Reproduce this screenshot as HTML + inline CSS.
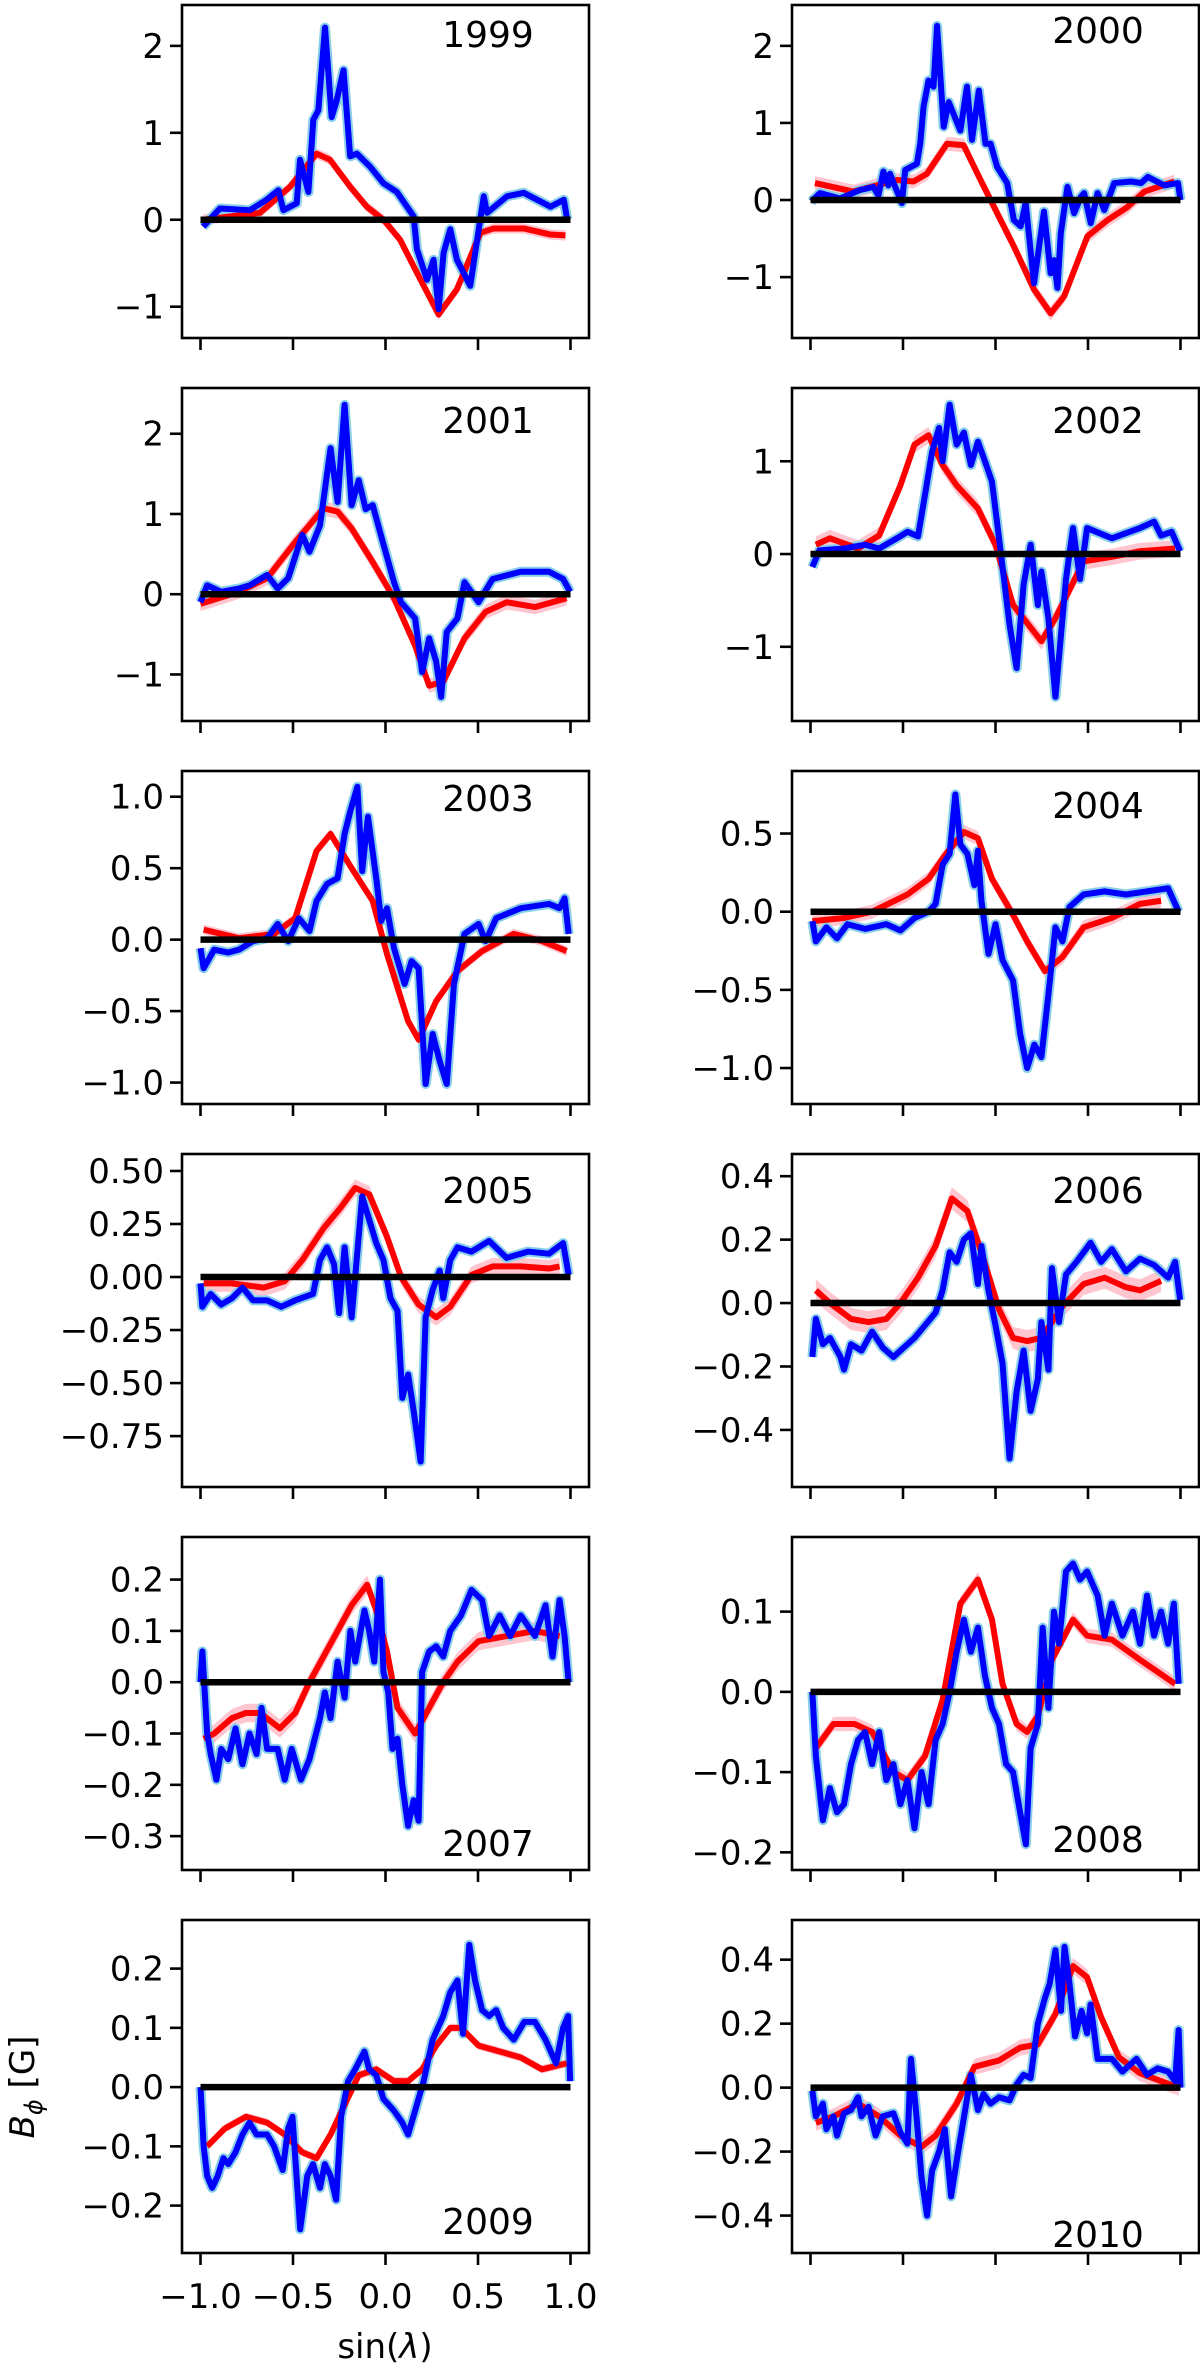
<!DOCTYPE html>
<html><head><meta charset="utf-8"><style>
html,body{margin:0;padding:0;background:#fff;}
svg text{font-family:"DejaVu Sans","Liberation Sans",sans-serif;fill:#000;}
</style></head><body>
<svg id="fig" xmlns="http://www.w3.org/2000/svg" width="1200" height="2368" viewBox="0 0 1200 2368">
<rect width="1200" height="2368" fill="#fff"/>
<text x="385" y="2358" font-size="34" text-anchor="middle">sin(<tspan font-style="italic">λ</tspan>)</text>
<text transform="translate(34,2087) rotate(-90)" font-size="34" text-anchor="middle"><tspan font-style="italic">B</tspan><tspan font-style="italic" font-size="24" dy="8">ϕ</tspan><tspan dy="-8"> [G]</tspan></text>
</svg>
<script>
const years = ["1999","2000","2001","2002","2003","2004","2005","2006","2007","2008","2009","2010"];
const ylims = [[-1.36,2.47],[-1.79,2.53],[-1.58,2.57],[-1.80,1.79],[-1.15,1.18],[-1.23,0.90],[-0.99,0.58],[-0.58,0.47],[-0.366,0.283],[-0.222,0.193],[-0.280,0.282],[-0.517,0.524]];
const yticks = [[2,1,0,-1],[2,1,0,-1],[2,1,0,-1],[1,0,-1],[1,0.5,0,-0.5,-1],[0.5,0,-0.5,-1],[0.5,0.25,0,-0.25,-0.5,-0.75],[0.4,0.2,0,-0.2,-0.4],[0.2,0.1,0,-0.1,-0.2,-0.3],[0.1,0,-0.1,-0.2],[0.2,0.1,0,-0.1,-0.2],[0.4,0.2,0,-0.2,-0.4]];
const ytickLabels = [["2","1","0","−1"],["2","1","0","−1"],["2","1","0","−1"],["1","0","−1"],["1.0","0.5","0.0","−0.5","−1.0"],["0.5","0.0","−0.5","−1.0"],["0.50","0.25","0.00","−0.25","−0.50","−0.75"],["0.4","0.2","0.0","−0.2","−0.4"],["0.2","0.1","0.0","−0.1","−0.2","−0.3"],["0.1","0.0","−0.1","−0.2"],["0.2","0.1","0.0","−0.1","−0.2"],["0.4","0.2","0.0","−0.2","−0.4"]];
const xticks = [-1,-0.5,0,0.5,1];
const xtickLabels = ["−1.0","−0.5","0.0","0.5","1.0"];
const redErr = [0.06,0.09,0.09,0.09,0.035,0.045,0.04,0.035,0.018,0.009,0.007,0.025];

const bx1999=[-0.986,-0.895,-0.733,-0.643,-0.579,-0.552,-0.480,-0.462,-0.417,-0.390,-0.363,-0.327,-0.291,-0.264,-0.227,-0.191,-0.155,-0.083,-0.011,0.061,0.152,0.170,0.224,0.260,0.287,0.314,0.350,0.386,0.458,0.531,0.549,0.657,0.747,0.892,0.964,0.982];
const by1999=[-0.08,0.13,0.11,0.23,0.34,0.11,0.19,0.69,0.32,1.15,1.26,2.21,1.18,1.37,1.72,0.73,0.76,0.61,0.42,0.32,0.04,-0.34,-0.69,-0.46,-1.03,-0.38,-0.11,-0.46,-0.76,0.27,0.08,0.27,0.31,0.15,0.23,0.0];
const rx1999=[-0.986,-0.679,-0.516,-0.372,-0.300,-0.191,-0.101,-0.011,0.079,0.170,0.287,0.386,0.513,0.585,0.747,0.892,0.973];
const ry1999=[0,0.08,0.38,0.76,0.69,0.38,0.15,0,-0.23,-0.61,-1.09,-0.80,-0.15,-0.10,-0.10,-0.17,-0.18];

const bx2000=[-0.995,-0.949,-0.841,-0.732,-0.660,-0.633,-0.606,-0.579,-0.570,-0.542,-0.506,-0.488,-0.425,-0.407,-0.389,-0.362,-0.335,-0.316,-0.280,-0.253,-0.190,-0.154,-0.127,-0.090,-0.054,-0.027,0.009,0.063,0.099,0.136,0.163,0.208,0.262,0.298,0.316,0.335,0.353,0.389,0.425,0.461,0.479,0.515,0.552,0.588,0.642,0.732,0.787,0.823,0.913,0.986,1.0];
const by2000=[-0.02,0.09,0.02,0.13,0.17,0.06,0.37,0.19,0.34,0.17,-0.04,0.39,0.47,0.73,1.21,1.55,1.47,2.26,0.95,1.27,0.90,1.47,0.78,1.42,0.73,0.73,0.43,0.22,-0.26,-0.34,-0.04,-1.08,-0.15,-0.95,-0.78,-1.14,-0.43,0.17,-0.17,0.04,0.09,-0.30,0.09,-0.13,0.22,0.24,0.22,0.30,0.19,0.22,0];
const rx2000=[-0.976,-0.768,-0.533,-0.443,-0.371,-0.262,-0.172,-0.081,0.009,0.099,0.208,0.298,0.371,0.497,0.606,0.714,0.805,0.967];
const ry2000=[0.22,0.11,0.26,0.24,0.34,0.73,0.71,0.26,-0.17,-0.60,-1.16,-1.47,-1.25,-0.47,-0.26,-0.09,0.11,0.24];

const bx2001=[-1.0,-0.964,-0.888,-0.792,-0.735,-0.640,-0.583,-0.526,-0.450,-0.411,-0.354,-0.297,-0.259,-0.221,-0.183,-0.145,-0.107,-0.069,-0.030,0.046,0.084,0.160,0.198,0.236,0.274,0.301,0.331,0.389,0.427,0.503,0.579,0.731,0.884,0.960,0.998];
const by2001=[-0.10,0.11,0.03,0.07,0.11,0.24,0.07,0.20,0.74,0.53,0.86,1.82,1.15,2.36,1.11,1.42,1.06,1.11,0.78,0.15,-0.10,-0.30,-0.97,-0.55,-0.84,-1.28,-0.47,-0.30,0.15,-0.10,0.19,0.28,0.28,0.19,0.03];
const rx2001=[-1.0,-0.792,-0.640,-0.488,-0.335,-0.259,-0.183,-0.069,0.046,0.160,0.236,0.312,0.427,0.541,0.655,0.808,0.979];
const ry2001=[-0.12,0.03,0.20,0.65,1.07,1.03,0.82,0.40,-0.05,-0.64,-1.14,-1.09,-0.55,-0.22,-0.10,-0.16,-0.05];

const bx2002=[-0.990,-0.952,-0.819,-0.705,-0.629,-0.533,-0.476,-0.419,-0.381,-0.343,-0.305,-0.286,-0.248,-0.210,-0.171,-0.133,-0.095,-0.057,-0.019,0.019,0.076,0.114,0.152,0.190,0.229,0.248,0.286,0.324,0.381,0.419,0.457,0.495,0.629,0.781,0.857,0.895,0.952,0.998];
const by2002=[-0.14,0.04,0.06,0.10,0.06,0.17,0.24,0.19,0.64,1.10,1.36,1.00,1.61,1.18,1.31,0.96,1.21,1.00,0.78,0.17,-0.76,-1.23,-0.33,0.10,-0.55,-0.19,-0.69,-1.54,-0.27,0.28,-0.27,0.28,0.17,0.28,0.35,0.20,0.24,0.03];
const rx2002=[-0.971,-0.895,-0.743,-0.629,-0.514,-0.438,-0.362,-0.286,-0.210,-0.095,0,0.095,0.248,0.324,0.476,0.629,0.781,0.971];
const ry2002=[0.10,0.17,0.06,0.20,0.74,1.18,1.28,0.96,0.74,0.49,0.10,-0.55,-0.94,-0.69,-0.08,-0.03,0.03,0.06];

const bx2003=[-1.0,-0.983,-0.926,-0.850,-0.792,-0.716,-0.640,-0.583,-0.526,-0.469,-0.411,-0.373,-0.316,-0.259,-0.221,-0.190,-0.152,-0.126,-0.095,-0.050,-0.023,0.008,0.046,0.103,0.141,0.179,0.217,0.255,0.293,0.331,0.370,0.427,0.503,0.541,0.598,0.731,0.884,0.941,0.968,0.990];
const by2003=[-0.06,-0.20,-0.07,-0.09,-0.07,-0.01,0.01,0.11,-0.01,0.15,0.06,0.27,0.39,0.43,0.74,0.90,1.07,0.48,0.86,0.43,0.13,0.22,-0.06,-0.31,-0.15,-0.20,-1.01,-0.66,-0.85,-1.01,-0.31,0.04,0.11,-0.01,0.15,0.22,0.25,0.22,0.29,0.04];
const rx2003=[-0.983,-0.792,-0.602,-0.488,-0.373,-0.297,-0.183,-0.069,0.008,0.122,0.179,0.274,0.389,0.522,0.693,0.846,0.979];
const ry2003=[0.07,0.01,0.04,0.15,0.62,0.74,0.50,0.27,-0.10,-0.57,-0.70,-0.43,-0.22,-0.08,0.04,-0.01,-0.08];

const bx2004=[-0.990,-0.971,-0.914,-0.857,-0.800,-0.705,-0.590,-0.514,-0.438,-0.362,-0.324,-0.286,-0.248,-0.217,-0.190,-0.152,-0.114,-0.095,-0.076,-0.038,0,0.038,0.095,0.133,0.171,0.210,0.248,0.286,0.324,0.362,0.400,0.476,0.590,0.705,0.819,0.933,0.990];
const by2004=[-0.06,-0.19,-0.10,-0.17,-0.08,-0.11,-0.08,-0.12,-0.04,0.00,0.05,0.30,0.37,0.75,0.43,0.37,0.17,0.39,0.07,-0.27,-0.08,-0.31,-0.44,-0.78,-1.00,-0.85,-0.93,-0.53,-0.10,-0.19,0.03,0.11,0.13,0.11,0.13,0.15,0.00];
const rx2004=[-0.990,-0.819,-0.667,-0.476,-0.362,-0.267,-0.171,-0.095,-0.019,0.095,0.171,0.267,0.362,0.476,0.629,0.781,0.895];
const ry2004=[-0.06,-0.04,0.00,0.11,0.21,0.37,0.51,0.47,0.21,-0.02,-0.19,-0.38,-0.29,-0.10,-0.04,0.05,0.07];

const bx2005=[-1.0,-0.990,-0.945,-0.888,-0.830,-0.773,-0.716,-0.640,-0.564,-0.488,-0.392,-0.354,-0.316,-0.278,-0.251,-0.221,-0.183,-0.152,-0.126,-0.088,-0.050,-0.011,0.027,0.065,0.091,0.122,0.152,0.190,0.217,0.255,0.293,0.312,0.350,0.389,0.465,0.560,0.655,0.770,0.884,0.960,0.990];
const by2005=[-0.03,-0.14,-0.08,-0.13,-0.10,-0.05,-0.11,-0.11,-0.14,-0.11,-0.08,0.08,0.14,0.06,-0.17,0.14,-0.19,0.12,0.38,0.27,0.16,0.08,-0.10,-0.16,-0.57,-0.46,-0.63,-0.87,-0.19,-0.06,0.03,-0.10,0.08,0.14,0.12,0.17,0.09,0.12,0.11,0.16,0.01];
const rx2005=[-0.983,-0.830,-0.659,-0.545,-0.450,-0.335,-0.240,-0.164,-0.088,0.008,0.084,0.179,0.274,0.350,0.465,0.579,0.731,0.884,0.941];
const ry2005=[-0.03,-0.03,-0.05,-0.02,0.08,0.23,0.33,0.42,0.39,0.19,0.00,-0.13,-0.19,-0.14,0.01,0.05,0.05,0.04,0.05];

const bx2006=[-0.990,-0.971,-0.933,-0.895,-0.838,-0.819,-0.781,-0.724,-0.667,-0.610,-0.552,-0.495,-0.438,-0.381,-0.324,-0.286,-0.248,-0.210,-0.171,-0.133,-0.095,-0.076,-0.038,0,0.038,0.076,0.114,0.152,0.190,0.229,0.248,0.286,0.305,0.343,0.381,0.438,0.514,0.571,0.629,0.705,0.781,0.857,0.933,0.971,0.998];
const by2006=[-0.17,-0.05,-0.13,-0.11,-0.17,-0.21,-0.13,-0.15,-0.09,-0.14,-0.17,-0.14,-0.11,-0.07,-0.03,0.04,0.16,0.13,0.20,0.22,0.06,0.18,0.04,-0.07,-0.19,-0.49,-0.28,-0.15,-0.34,-0.24,-0.06,-0.21,0.11,-0.06,0.09,0.13,0.19,0.13,0.17,0.10,0.14,0.12,0.08,0.13,0.01];
const rx2006=[-0.971,-0.895,-0.781,-0.686,-0.590,-0.514,-0.419,-0.324,-0.236,-0.152,-0.076,0.019,0.095,0.171,0.248,0.362,0.476,0.590,0.705,0.781,0.895];
const ry2006=[0.04,0.00,-0.05,-0.06,-0.05,0.00,0.08,0.18,0.33,0.29,0.16,-0.02,-0.11,-0.12,-0.11,-0.01,0.06,0.08,0.05,0.04,0.07];

const bx2007=[-1.0,-0.990,-0.964,-0.945,-0.914,-0.888,-0.850,-0.811,-0.773,-0.735,-0.697,-0.670,-0.640,-0.583,-0.545,-0.507,-0.457,-0.411,-0.354,-0.328,-0.297,-0.259,-0.221,-0.190,-0.164,-0.114,-0.088,-0.061,-0.030,-0.011,0.015,0.038,0.065,0.091,0.122,0.152,0.179,0.198,0.236,0.274,0.312,0.350,0.408,0.465,0.522,0.560,0.617,0.674,0.731,0.808,0.865,0.903,0.941,0.968,0.990];
const by2007=[0.00,0.06,-0.10,-0.14,-0.19,-0.13,-0.15,-0.09,-0.16,-0.10,-0.14,-0.05,-0.13,-0.13,-0.19,-0.13,-0.19,-0.15,-0.07,-0.02,-0.07,0.04,-0.03,0.10,0.04,0.14,0.10,0.04,0.20,0.02,-0.02,-0.13,-0.11,-0.20,-0.28,-0.23,-0.27,0.02,0.06,0.07,0.05,0.10,0.13,0.18,0.16,0.09,0.13,0.09,0.13,0.09,0.15,0.05,0.16,0.09,0.00];
const rx2007=[-0.983,-0.926,-0.830,-0.754,-0.678,-0.571,-0.488,-0.411,-0.335,-0.259,-0.183,-0.099,-0.050,0.008,0.065,0.160,0.236,0.312,0.389,0.503,0.655,0.808,0.941];
const ry2007=[-0.11,-0.10,-0.07,-0.06,-0.06,-0.09,-0.06,0.00,0.05,0.10,0.15,0.19,0.14,0.06,-0.05,-0.10,-0.05,0.00,0.04,0.08,0.09,0.10,0.09];

const bx2008=[-0.990,-0.971,-0.933,-0.895,-0.857,-0.819,-0.781,-0.743,-0.705,-0.667,-0.629,-0.590,-0.552,-0.514,-0.476,-0.438,-0.400,-0.362,-0.324,-0.286,-0.248,-0.210,-0.171,-0.133,-0.095,-0.057,-0.019,0.019,0.057,0.095,0.133,0.164,0.190,0.229,0.255,0.286,0.316,0.343,0.381,0.419,0.457,0.495,0.552,0.590,0.629,0.686,0.743,0.781,0.819,0.857,0.895,0.933,0.964,0.990];
const by2008=[0.00,-0.08,-0.16,-0.12,-0.15,-0.14,-0.09,-0.06,-0.05,-0.09,-0.05,-0.11,-0.09,-0.14,-0.11,-0.17,-0.10,-0.14,-0.06,-0.04,0.00,0.05,0.09,0.05,0.08,0.02,-0.02,-0.04,-0.09,-0.10,-0.15,-0.19,-0.07,-0.04,0.08,-0.02,0.10,0.06,0.15,0.16,0.14,0.15,0.12,0.07,0.11,0.07,0.10,0.06,0.12,0.07,0.10,0.06,0.11,0.01];
const rx2008=[-0.971,-0.876,-0.762,-0.667,-0.552,-0.476,-0.381,-0.286,-0.190,-0.095,-0.019,0.038,0.114,0.171,0.229,0.305,0.419,0.495,0.629,0.781,0.971];
const ry2008=[-0.07,-0.04,-0.04,-0.05,-0.10,-0.11,-0.08,-0.01,0.11,0.14,0.09,0.01,-0.04,-0.05,-0.03,0.04,0.09,0.07,0.065,0.04,0.01];

const bx2009=[-1.0,-0.983,-0.964,-0.937,-0.907,-0.876,-0.850,-0.811,-0.773,-0.735,-0.697,-0.640,-0.602,-0.556,-0.526,-0.503,-0.461,-0.423,-0.392,-0.354,-0.328,-0.297,-0.267,-0.240,-0.202,-0.164,-0.114,-0.088,-0.050,-0.011,0.046,0.091,0.122,0.160,0.206,0.255,0.312,0.350,0.389,0.419,0.453,0.484,0.522,0.560,0.598,0.636,0.693,0.750,0.808,0.865,0.922,0.960,0.987,0.998];
const by2009=[0.00,-0.10,-0.15,-0.17,-0.15,-0.12,-0.13,-0.11,-0.08,-0.06,-0.08,-0.08,-0.10,-0.14,-0.07,-0.05,-0.24,-0.15,-0.13,-0.17,-0.13,-0.15,-0.19,-0.05,0.01,0.03,0.06,0.03,0.02,-0.02,-0.04,-0.06,-0.08,-0.04,0.01,0.08,0.12,0.16,0.18,0.09,0.24,0.18,0.13,0.12,0.13,0.10,0.08,0.11,0.11,0.08,0.04,0.10,0.12,0.01];
const rx2009=[-0.964,-0.869,-0.754,-0.640,-0.545,-0.450,-0.373,-0.297,-0.221,-0.145,-0.050,0.046,0.122,0.198,0.274,0.350,0.408,0.503,0.617,0.731,0.846,0.979];
const ry2009=[-0.10,-0.07,-0.05,-0.06,-0.08,-0.11,-0.12,-0.08,-0.03,0.02,0.03,0.01,0.01,0.03,0.07,0.10,0.10,0.07,0.06,0.05,0.03,0.04];

const bx2010=[-0.990,-0.971,-0.933,-0.914,-0.876,-0.857,-0.819,-0.781,-0.743,-0.724,-0.686,-0.648,-0.610,-0.552,-0.514,-0.476,-0.457,-0.427,-0.400,-0.370,-0.343,-0.305,-0.274,-0.240,-0.202,-0.164,-0.133,-0.095,-0.065,-0.027,0.019,0.076,0.114,0.152,0.190,0.229,0.267,0.293,0.324,0.354,0.373,0.400,0.430,0.465,0.495,0.514,0.552,0.629,0.686,0.762,0.819,0.876,0.933,0.971,0.990,1.0];
const by2010=[-0.01,-0.09,-0.05,-0.13,-0.09,-0.15,-0.08,-0.07,-0.03,-0.09,-0.06,-0.15,-0.09,-0.08,-0.14,-0.175,0.09,-0.09,-0.28,-0.40,-0.26,-0.20,-0.13,-0.34,-0.20,-0.07,0.04,-0.07,-0.02,-0.05,-0.03,-0.04,0.01,0.04,0.03,0.20,0.28,0.325,0.43,0.24,0.44,0.325,0.16,0.24,0.17,0.26,0.09,0.09,0.05,0.09,0.04,0.06,0.05,0.02,0.18,0.00];
const rx2010=[-0.971,-0.876,-0.743,-0.629,-0.514,-0.400,-0.324,-0.210,-0.114,0.019,0.133,0.229,0.324,0.419,0.495,0.571,0.667,0.781,0.895,0.990];
const ry2010=[-0.11,-0.09,-0.05,-0.09,-0.15,-0.185,-0.15,-0.05,0.065,0.085,0.125,0.135,0.23,0.38,0.345,0.22,0.095,0.045,0.02,0.00];

const blueX=[bx1999,bx2000,bx2001,bx2002,bx2003,bx2004,bx2005,bx2006,bx2007,bx2008,bx2009,bx2010];
const blueY=[by1999,by2000,by2001,by2002,by2003,by2004,by2005,by2006,by2007,by2008,by2009,by2010];
const redX=[rx1999,rx2000,rx2001,rx2002,rx2003,rx2004,rx2005,rx2006,rx2007,rx2008,rx2009,rx2010];
const redY=[ry1999,ry2000,ry2001,ry2002,ry2003,ry2004,ry2005,ry2006,ry2007,ry2008,ry2009,ry2010];

const NS="http://www.w3.org/2000/svg";
const svg=document.getElementById('fig');
const BOXW=407, BOXH=333;
const colLeft=[182,792];
const rowTop=[5,388,771,1154,1537,1920];
const yearBottom=[false,false,false,false,false,false,false,false,true,true,true,true];
const yearBaseOff=[42,38,45,45,40,47,49,49,-14,-18,-19,-6];

function mk(tag,attrs,parent){const e=document.createElementNS(NS,tag);for(const k in attrs)e.setAttribute(k,attrs[k]);(parent||svg).appendChild(e);return e;}

for(let i=0;i<12;i++){
  const L=colLeft[i%2], T=rowTop[Math.floor(i/2)];
  const [y0,y1]=ylims[i];
  const sx=v=>L+(v+1.1)/2.2*BOXW;
  const sy=v=>T+(y1-v)/(y1-y0)*BOXH;
  const g=mk('g',{});
  
  
  const cp=mk('clipPath',{id:'cp'+i},g);
  mk('rect',{x:L,y:T,width:BOXW,height:BOXH},cp);
  const pg=mk('g',{'clip-path':'url(#cp'+i+')'},g);
  const rx=redX[i], ry=redY[i], e=redErr[i];
  let up=[],dn=[];
  for(let k=0;k<rx.length;k++){up.push(sx(rx[k])+','+sy(ry[k]+e));dn.unshift(sx(rx[k])+','+sy(ry[k]-e));}
  const band=mk('polygon',{points:up.concat(dn).join(' '),fill:'#ffc0cb',opacity:'0.9'},pg);
  
  
  const bpts=blueX[i].map((x,k)=>sx(x)+','+sy(blueY[i][k])).join(' ');
  const bb=mk('polyline',{points:bpts,fill:'none',stroke:'#87ceeb','stroke-width':'10','stroke-linejoin':'round'},pg);
  
  
  const rpts=rx.map((x,k)=>sx(x)+','+sy(ry[k])).join(' ');
  const rl=mk('polyline',{points:rpts,fill:'none',stroke:'#ff0000','stroke-width':'6','stroke-linejoin':'round'},pg);
  
  
  const bl=mk('polyline',{points:bpts,fill:'none',stroke:'#0000ff','stroke-width':'6','stroke-linejoin':'round'},pg);
  
  
  const zl=mk('line',{x1:sx(-1),x2:sx(1),y1:sy(0),y2:sy(0),stroke:'#000','stroke-width':'6.5'},pg);
  
  
  const fr=mk('rect',{x:L,y:T,width:BOXW,height:BOXH,fill:'none',stroke:'#000','stroke-width':'2.6'},g);
  
  
  yticks[i].forEach((v,k)=>{
    const y=sy(v);
    const t=mk('line',{x1:L-12,x2:L,y1:y,y2:y,stroke:'#000','stroke-width':'2.6'},g);
    
    
    const lb=mk('text',{x:L-18,y:y+12,'font-size':'34','text-anchor':'end'},g);
    
    
    lb.textContent=ytickLabels[i][k];
  });
  xticks.forEach((v,k)=>{
    const x=sx(v);
    const t=mk('line',{x1:x,x2:x,y1:T+BOXH,y2:T+BOXH+12,stroke:'#000','stroke-width':'2.6'},g);
    
    
    if(i===10){
      const lb=mk('text',{x:x,y:T+BOXH+55,'font-size':'34','text-anchor':'middle'},g);
      
      
      lb.textContent=xtickLabels[k];
    }
  });
  const yb=yearBottom[i]?T+BOXH+yearBaseOff[i]:T+yearBaseOff[i];
  const yt=mk('text',{x:L+306,y:yb,'font-size':'36','text-anchor':'middle'},g);
  
  
  yt.textContent=years[i];
}
</script>
</body></html>
